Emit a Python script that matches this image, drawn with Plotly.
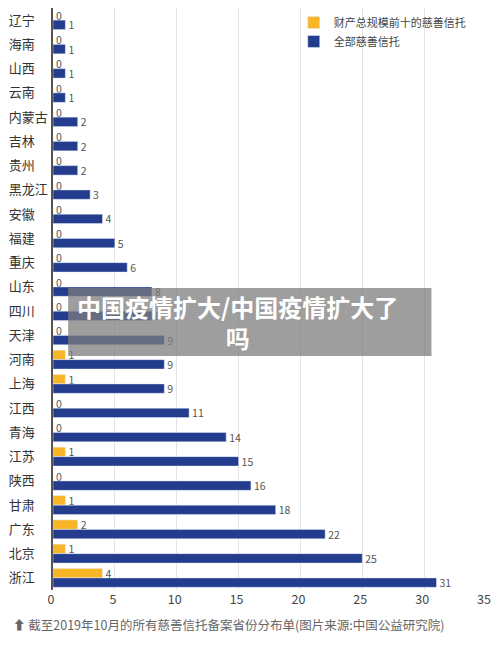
import plotly.graph_objects as go

# province distribution of charity trusts (as of Oct 2019)
provinces = ["辽宁", "海南", "山西", "云南", "内蒙古", "吉林", "贵州", "黑龙江",
             "安徽", "福建", "重庆", "山东", "四川", "天津", "河南", "上海",
             "江西", "青海", "江苏", "陕西", "甘肃", "广东", "北京", "浙江"]
top10 = [0, 0, 0, 0, 0, 0, 0, 0, 0, 0, 0, 0, 0, 0, 1, 1, 0, 0, 1, 0, 1, 2, 1, 4]
all_trusts = [1, 1, 1, 1, 2, 2, 2, 3, 4, 5, 6, 8, 8, 9, 9, 9, 11, 14, 15, 16, 18, 22, 25, 31]
x_ticks = [0, 5, 10, 15, 20, 25, 30, 35]

font = "Noto Sans CJK SC"
# left-align the province names by padding with full-width spaces
y_labels = [p + "\u3000" * (3 - len(p)) for p in provinces]

fig = go.Figure()
fig.add_trace(go.Bar(
    y=provinces, x=top10, orientation="h", name="财产总规模前十的慈善信托",
    marker=dict(color="#F8B526"), text=top10, textposition="outside",
    textfont=dict(size=10.5, color="#555"), cliponaxis=False, constraintext="none",
))
fig.add_trace(go.Bar(
    y=provinces, x=all_trusts, orientation="h", name="全部慈善信托",
    marker=dict(color="#233C8E"), text=all_trusts, textposition="outside",
    textfont=dict(size=10.5, color="#555"), cliponaxis=False, constraintext="none",
))

# page body has an 8px margin, so the figure is sized and offset for it
fig.update_layout(
    width=490, height=629,
    margin=dict(l=45, r=12, t=0, b=47),
    paper_bgcolor="white", plot_bgcolor="white",
    font=dict(family=font, color="#333"),
    barmode="group", bargap=0.22, bargroupgap=0.0,
    showlegend=True,
    legend=dict(x=0.556, y=1.0, xanchor="left", yanchor="top",
                font=dict(size=11, color="#444"), bgcolor="rgba(0,0,0,0)",
                itemwidth=30, tracegroupgap=2),
    xaxis=dict(range=[0, 35], tickvals=x_ticks, showgrid=True, automargin=False,
               gridcolor="#e4e4e4", zeroline=False, showline=False,
               tickfont=dict(size=12.5, color="#444"), ticks="", ticklabelshift=-2),
    yaxis=dict(autorange="reversed", showline=True, linecolor="#555", automargin=False,
               linewidth=1.5, ticks="", tickfont=dict(size=13, color="#333"),
               tickvals=provinces, ticktext=y_labels, ticklabelstandoff=1),
)

# caption under the chart
fig.add_annotation(
    text="⬆ 截至2019年10月的所有慈善信托备案省份分布单(图片来源:中国公益研究院)",
    xref="paper", yref="paper", x=-0.096, y=-0.079, xanchor="left", yanchor="bottom",
    showarrow=False, font=dict(size=12.5, color="#666"),
)

# grey overlay banner
fig.add_shape(type="rect", xref="paper", yref="paper",
              x0=0.035, x1=0.874, y0=0.402, y1=0.519,
              fillcolor="rgba(125,125,125,0.75)", line=dict(width=0), layer="above")
fig.add_annotation(
    text="<b>中国疫情扩大/中国疫情扩大了</b><br><b>吗</b>",
    xref="paper", yref="paper", x=0.425, y=0.4605, xanchor="center", yanchor="middle",
    showarrow=False, font=dict(size=24, color="white"), align="center",
)

fig.write_html("out.html")
